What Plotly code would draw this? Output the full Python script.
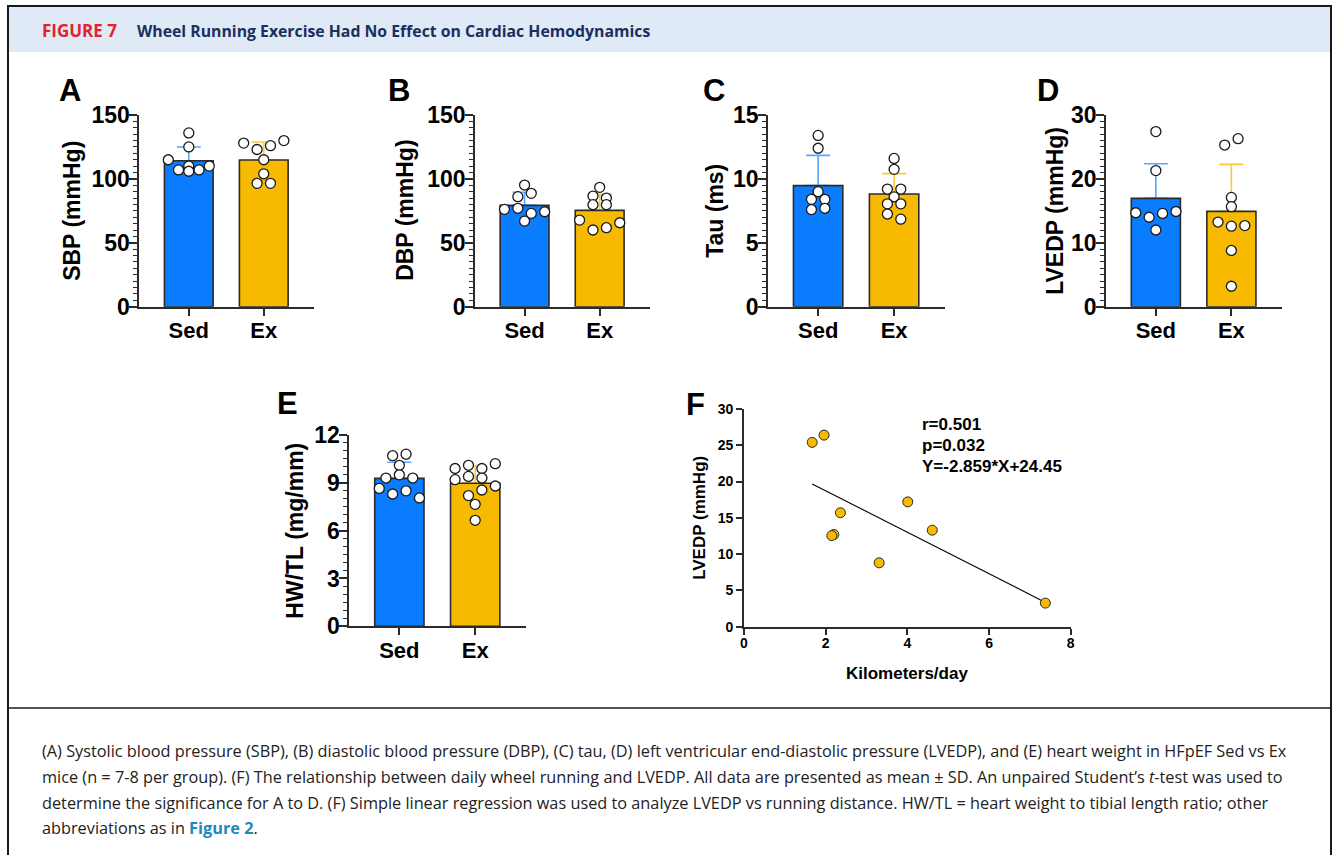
import numpy as np
import plotly.graph_objects as go

# ---------------- data ----------------
groups = ["Sed", "Ex"]

sbp_sed = [136, 125, 115, 107, 110, 107, 110, 106]
sbp_ex = [128, 123, 126, 130, 115, 104, 96.5, 96.5]
sbp_mean = [114.2, 114.8]
sbp_sd = [10.8, 14.1]

dbp_sed = [95.2, 86.1, 88.7, 76.2, 77, 73, 74.3, 67]
dbp_ex = [93.4, 86.6, 85, 79.8, 79.8, 67.8, 60, 61.8, 65.7]
dbp_mean = [79.3, 75.4]
dbp_sd = [10.2, 12.5]

tau_sed = [13.4, 12.4, 8.4, 7.6, 8.4, 9.0, 7.7]
tau_ex = [11.6, 10.75, 9.2, 9.2, 8.6, 8.05, 8.05, 7.25, 6.85]
tau_mean = [9.47, 8.82]
tau_sd = [2.37, 1.59]

lvedp_sed = [27.4, 21.3, 14.7, 14.0, 14.6, 14.9, 12.0]
lvedp_ex = [25.3, 26.3, 17.1, 15.65, 13.25, 12.6, 12.7, 8.8, 3.2]
lvedp_mean = [16.96, 14.92]
lvedp_sd = [5.42, 7.36]

hwtl_sed = [10.7, 10.8, 10.1, 9.3, 9.5, 9.3, 8.65, 8.3, 8.5, 8.05]
hwtl_ex = [9.9, 10.1, 9.9, 10.2, 9.2, 9.4, 9.3, 8.8, 8.2, 8.55, 7.65, 6.65]
hwtl_mean = [9.28, 8.97]
hwtl_sd = [1.01, 1.09]

km_per_day = [1.67, 1.96, 4.01, 2.36, 4.61, 2.20, 2.15, 3.31, 7.38]
lvedp_ex_run = [25.4, 26.4, 17.2, 15.7, 13.3, 12.7, 12.55, 8.8, 3.25]
reg_slope = -2.859
reg_intercept = 24.45
stats_lines = ["r=0.501", "p=0.032", "Y=-2.859*X+24.45"]

# ---------------- styling ----------------
W, H = 1336, 855
FONT = "Liberation Sans"
AX = "#2b2b2b"
BAR_COLORS = ["#0A7CFF", "#F8BA00"]
ERR_COLORS = ["#5AA5FF", "#F9C93A"]


def fx(p):
    return p / W


def fy(p):
    return 1 - p / H


fig = go.Figure()

panels = [
    dict(letter="A", sed=sbp_sed, ex=sbp_ex, mean=sbp_mean, sd=sbp_sd, ymax=150, dtick=50, minor=5,
         title="SBP (mmHg)", x0=139.3, x1=314, y0=115, y1=306.7, tx=72, lx=70, ly=90),
    dict(letter="B", sed=dbp_sed, ex=dbp_ex, mean=dbp_mean, sd=dbp_sd, ymax=150, dtick=50, minor=5,
         title="DBP (mmHg)", x0=475, x1=650, y0=115, y1=306.7, tx=405, ly=90, lx=399),
    dict(letter="C", sed=tau_sed, ex=tau_ex, mean=tau_mean, sd=tau_sd, ymax=15, dtick=5, minor=0.5,
         title="Tau (ms)", x0=768, x1=945, y0=115, y1=306.7, tx=715, lx=714, ly=91),
    dict(letter="D", sed=lvedp_sed, ex=lvedp_ex, mean=lvedp_mean, sd=lvedp_sd, ymax=30, dtick=10, minor=1,
         title="LVEDP (mmHg)", x0=1106, x1=1282, y0=115, y1=306.7, tx=1055, lx=1048, ly=91),
    dict(letter="E", sed=hwtl_sed, ex=hwtl_ex, mean=hwtl_mean, sd=hwtl_sd, ymax=12, dtick=3, minor=0.5,
         title="HW/TL (mg/mm)", x0=349.3, x1=526, y0=435, y1=626.3, tx=295, lx=287, ly=403),
]

XR = [-0.66, 1.67]
DIAM = 10.0


def swarm_offsets(values, px_per_unit, px_per_cat, gap=6.5, span=10.5, spacing=13.4, max_spread=41.0):
    """Row-based scatter layout (GraphPad-like): points close in value share a row."""
    n = len(values)
    order = sorted(range(n), key=lambda i: -values[i])
    rows, cur = [], []
    for i in order:
        if cur and ((values[cur[-1]] - values[i]) * px_per_unit <= gap
                    and (values[cur[0]] - values[i]) * px_per_unit <= span):
            cur.append(i)
        else:
            if cur:
                rows.append(cur)
            cur = [i]
    if cur:
        rows.append(cur)
    off = [0.0] * n
    for row in rows:
        row = sorted(row)
        m = len(row)
        s = spacing if m < 2 else min(spacing, max_spread / (m - 1))
        for j, i in enumerate(row):
            off[i] = (j - (m - 1) / 2) * s / px_per_cat
    return off


annotations = []
for k, p in enumerate(panels):
    idx = "" if k == 0 else str(k + 1)
    xa, ya = "x" + idx, "y" + idx
    plot_w = p["x1"] - p["x0"]
    plot_h = p["y1"] - p["y0"]
    px_per_cat = plot_w / (XR[1] - XR[0])
    px_per_unit = plot_h / p["ymax"]

    # SD error bars (upper only), drawn under the real bars
    for g in range(2):
        fig.add_trace(go.Bar(
            x=[g], y=[p["mean"][g]], width=0.65, xaxis=xa, yaxis=ya,
            marker=dict(color="rgba(0,0,0,0)", line=dict(width=0)),
            error_y=dict(type="data", symmetric=False, array=[p["sd"][g]], arrayminus=[0],
                         color=ERR_COLORS[g], thickness=1.6, width=12),
            showlegend=False, hoverinfo="skip"))
    fig.add_trace(go.Bar(
        x=[0, 1], y=p["mean"], width=0.65, xaxis=xa, yaxis=ya,
        marker=dict(color=BAR_COLORS, line=dict(color=AX, width=1.6)),
        showlegend=False))
    for g, vals in enumerate([p["sed"], p["ex"]]):
        off = swarm_offsets(vals, px_per_unit, px_per_cat)
        fig.add_trace(go.Scatter(
            x=[g + o for o in off], y=vals, mode="markers", xaxis=xa, yaxis=ya,
            marker=dict(size=DIAM, color="white", line=dict(color="#1a1a1a", width=1.3)),
            cliponaxis=False, showlegend=False))

    fig.update_layout(**{
        "xaxis" + idx: dict(
            domain=[fx(p["x0"]), fx(p["x1"])], range=XR, anchor=ya, automargin=False,
            tickvals=[0, 1], ticktext=groups, ticks="outside", ticklen=7, tickwidth=1.6,
            ticklabelstandoff=-4,
            tickcolor=AX, showline=True, linecolor=AX, linewidth=1.8, showgrid=False, zeroline=False,
            tickfont=dict(family=FONT, size=22, color="black", weight="bold")),
        "yaxis" + idx: dict(
            domain=[fy(p["y1"]), fy(p["y0"])], range=[0, p["ymax"]], anchor=xa, automargin=False,
            dtick=p["dtick"], ticks="outside", ticklen=8, tickwidth=1.6, tickcolor=AX,
            ticklabelstandoff=-5,
            minor=dict(dtick=p["minor"], ticks="outside", ticklen=4, tickwidth=1.1, tickcolor=AX),
            showline=True, linecolor=AX, linewidth=1.8, showgrid=False, zeroline=False,
            tickfont=dict(family=FONT, size=23, color="black", weight="bold")),
    })
    annotations.append(dict(
        text=p["title"], x=fx(p["tx"]), y=fy((p["y0"] + p["y1"]) / 2), xref="paper", yref="paper",
        textangle=-90, showarrow=False, xanchor="center", yanchor="middle",
        font=dict(family=FONT, size=23, color="black", weight="bold")))
    annotations.append(dict(
        text=p["letter"], x=fx(p["lx"]), y=fy(p["ly"]), xref="paper", yref="paper",
        showarrow=False, xanchor="center", yanchor="middle",
        font=dict(family=FONT, size=31, color="black", weight="bold")))

# ---------------- panel F ----------------
fig.add_trace(go.Scatter(
    x=[min(km_per_day), max(km_per_day)],
    y=[reg_slope * min(km_per_day) + reg_intercept, reg_slope * max(km_per_day) + reg_intercept],
    mode="lines", line=dict(color="black", width=1.1), xaxis="x6", yaxis="y6", showlegend=False))
fig.add_trace(go.Scatter(
    x=km_per_day, y=lvedp_ex_run, mode="markers", xaxis="x6", yaxis="y6",
    marker=dict(size=10, color="#F8BA00", line=dict(color="#2a2a2a", width=1)),
    cliponaxis=False, showlegend=False))
fx0, fx1, fy0, fy1 = 744, 1070.7, 409, 626.7
fig.update_layout(
    xaxis6=dict(domain=[fx(fx0), fx(fx1)], range=[0, 8], dtick=2, anchor="y6", automargin=False,
                ticks="outside", ticklen=6, tickwidth=1.5, tickcolor=AX, showline=True, linecolor=AX,
                linewidth=1.6, showgrid=False, zeroline=False, ticklabelstandoff=-3,
                tickfont=dict(family=FONT, size=14, color="black", weight="bold")),
    yaxis6=dict(domain=[fy(fy1), fy(fy0)], range=[0, 30], dtick=5, anchor="x6", automargin=False,
                ticks="outside", ticklen=6, tickwidth=1.5, tickcolor=AX, showline=True, linecolor=AX,
                linewidth=1.6, showgrid=False, zeroline=False,
                tickfont=dict(family=FONT, size=14, color="black", weight="bold")),
)
annotations += [
    dict(text="Kilometers/day", x=fx((fx0 + fx1) / 2), y=fy(673), xref="paper", yref="paper",
         showarrow=False, xanchor="center", yanchor="middle",
         font=dict(family=FONT, size=17, color="black", weight="bold")),
    dict(text="LVEDP (mmHg)", x=fx(700), y=fy((fy0 + fy1) / 2), xref="paper", yref="paper",
         textangle=-90, showarrow=False, xanchor="center", yanchor="middle",
         font=dict(family=FONT, size=17, color="black", weight="bold")),
    dict(text="F", x=fx(695), y=fy(405), xref="paper", yref="paper",
         showarrow=False, xanchor="center", yanchor="middle",
         font=dict(family=FONT, size=31, color="black", weight="bold")),
]
for i, t in enumerate(stats_lines):
    annotations.append(dict(
        text=t, x=fx(920), y=fy(425 + 20.8 * i), xref="paper", yref="paper",
        showarrow=False, xanchor="left", yanchor="middle",
        font=dict(family=FONT, size=17, color="black", weight="bold")))

# ---------------- header, caption, frame ----------------
HFONT = "Open Sans"
annotations += [
    dict(text="<b>FIGURE 7</b>", x=fx(40), y=fy(31), xref="paper", yref="paper", showarrow=False,
         xanchor="left", yanchor="middle", font=dict(family=HFONT, size=17, color="#E3222D")),
    dict(text="<b>Wheel Running Exercise Had No Effect on Cardiac Hemodynamics</b>", x=fx(135), y=fy(31),
         xref="paper", yref="paper", showarrow=False, xanchor="left", yanchor="middle",
         font=dict(family=HFONT, size=15.8, color="#1B2F5E")),
]
caption = [
    "(A) Systolic blood pressure (SBP), (B) diastolic blood pressure (DBP), (C) tau, (D) left ventricular "
    "end-diastolic pressure (LVEDP), and (E) heart weight in HFpEF Sed vs Ex",
    "mice (n = 7-8 per group). (F) The relationship between daily wheel running and LVEDP. All data are "
    "presented as mean \u00b1 SD. An unpaired Student\u2019s <i>t</i>-test was used to",
    "determine the significance for A to D. (F) Simple linear regression was used to analyze LVEDP vs "
    "running distance. HW/TL = heart weight to tibial length ratio; other",
    "abbreviations as in <span style='color:#1A8AC0'><b>Figure 2</b></span>.",
]
for i, line in enumerate(caption):
    annotations.append(dict(
        text=line, x=fx(40), y=fy(751 + 25.8 * i), xref="paper", yref="paper", showarrow=False,
        xanchor="left", yanchor="middle", font=dict(family=HFONT, size=16.3, color="#222222")))

shapes = [
    dict(type="rect", xref="paper", yref="paper", x0=fx(8), x1=fx(1331), y0=fy(52), y1=fy(6),
         fillcolor="#DFEAF6", line=dict(width=0), layer="below"),
    dict(type="line", xref="paper", yref="paper", x0=fx(7), x1=fx(1332), y0=fy(6), y1=fy(6),
         line=dict(color="#1a1a1a", width=2)),
    dict(type="line", xref="paper", yref="paper", x0=fx(8), x1=fx(8), y0=fy(5), y1=fy(856),
         line=dict(color="#1a1a1a", width=2)),
    dict(type="line", xref="paper", yref="paper", x0=fx(1331), x1=fx(1331), y0=fy(5), y1=fy(856),
         line=dict(color="#1a1a1a", width=2)),
    dict(type="line", xref="paper", yref="paper", x0=fx(8), x1=fx(1331), y0=fy(708), y1=fy(708),
         line=dict(color="#1a1a1a", width=1.5)),
]

fig.update_layout(
    width=W, height=H, margin=dict(l=0, r=0, t=0, b=0, autoexpand=False),
    paper_bgcolor="white", plot_bgcolor="rgba(0,0,0,0)",
    barmode="overlay", showlegend=False,
    annotations=annotations, shapes=shapes,
)

fig.write_html("out.html", config={"displayModeBar": False},
               post_script="document.body.style.margin='0';document.body.style.overflow='hidden';")
